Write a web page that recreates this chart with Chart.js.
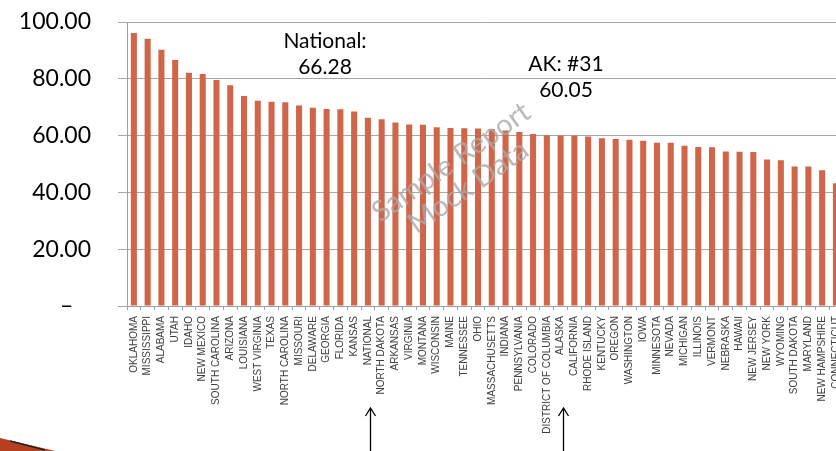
<!DOCTYPE html>
<html>
<head>
<meta charset="utf-8">
<script src="https://cdn.jsdelivr.net/npm/chart.js@4"></script>
<style>
  html, body { margin: 0; padding: 0; background: #fff; overflow: hidden; }
  #wrap { position: relative; width: 854px; height: 451px; }
</style>
</head>
<body>
<div id="wrap"><canvas id="stateChart" width="854" height="451"></canvas></div>
<script>
const states = [
  'OKLAHOMA', 'MISSISSIPPI', 'ALABAMA', 'UTAH', 'IDAHO', 'NEW MEXICO', 'SOUTH CAROLINA',
  'ARIZONA', 'LOUISIANA', 'WEST VIRGINIA', 'TEXAS', 'NORTH CAROLINA', 'MISSOURI',
  'DELAWARE', 'GEORGIA', 'FLORIDA', 'KANSAS', 'NATIONAL', 'NORTH DAKOTA', 'ARKANSAS',
  'VIRGINIA', 'MONTANA', 'WISCONSIN', 'MAINE', 'TENNESSEE', 'OHIO', 'MASSACHUSETTS',
  'INDIANA', 'PENNSYLVANIA', 'COLORADO', 'DISTRICT OF COLUMBIA', 'ALASKA', 'CALIFORNIA',
  'RHODE ISLAND', 'KENTUCKY', 'OREGON', 'WASHINGTON', 'IOWA', 'MINNESOTA', 'NEVADA',
  'MICHIGAN', 'ILLINOIS', 'VERMONT', 'NEBRASKA', 'HAWAII', 'NEW JERSEY', 'NEW YORK',
  'WYOMING', 'SOUTH DAKOTA', 'MARYLAND', 'NEW HAMPSHIRE', 'CONNECTICUT'
];

const scores = [
  96.1, 94.1, 90.2, 86.6, 82.1, 81.7, 79.6, 77.7, 73.9, 72.3, 71.9, 71.7, 70.6,
  69.8, 69.4, 69.3, 68.5, 66.28, 65.8, 64.6, 63.9, 63.8, 62.9, 62.7, 62.6, 62.5, 62.3,
  61.8, 61.3, 60.6, 60.1, 60.05, 60.0, 59.7, 59.1, 58.8, 58.5, 58.2, 57.5, 57.5,
  56.4, 56.0, 55.9, 54.4, 54.3, 54.2, 51.6, 51.3, 49.1, 49.1, 47.8, 43.2
];

const yTicks = [0, 20, 40, 60, 80, 100];

const callouts = [
  { lines: ['National:', '66.28'], x: 325, y: 41 },
  { lines: ['AK: #31', '60.05'], x: 566, y: 64 }
];
const arrowAt = ['NATIONAL', 'ALASKA'];

// extra drawing: callout text, watermark, arrows, slide corner
const extras = {
  id: 'extras',
  afterDraw(chart) {
    const ctx = chart.ctx;
    const x = chart.scales.x;
    ctx.save();

    ctx.fillStyle = '#000';
    ctx.font = '21px Lato, "Open Sans", sans-serif';
    ctx.textAlign = 'center';
    ctx.textBaseline = 'middle';
    callouts.forEach(c => {
      c.lines.forEach((t, i) => ctx.fillText(t, c.x, c.y + i * 26));
    });

    // watermark
    ctx.save();
    ctx.translate(458, 172);
    ctx.rotate(-35 * Math.PI / 180);
    ctx.fillStyle = 'rgba(170,170,170,0.8)';
    ctx.font = '29px Lato, "Open Sans", sans-serif';
    ctx.fillText('Sample Report', 0, -12);
    ctx.fillText('Mock Data', 0, 18);
    ctx.restore();

    // arrows pointing up at the labels
    ctx.strokeStyle = '#000';
    ctx.lineWidth = 1.3;
    arrowAt.forEach(name => {
      const px = Math.round(x.getPixelForValue(states.indexOf(name))) + 2.5;
      ctx.beginPath();
      ctx.moveTo(px, 451);
      ctx.lineTo(px, 408);
      ctx.moveTo(px - 5, 416);
      ctx.lineTo(px, 408);
      ctx.lineTo(px + 5, 416);
      ctx.stroke();
    });

    // slide corner decoration
    ctx.fillStyle = '#b5401f';
    ctx.beginPath();
    ctx.moveTo(0, 438);
    ctx.lineTo(55, 451);
    ctx.lineTo(0, 451);
    ctx.closePath();
    ctx.fill();
    ctx.strokeStyle = '#222';
    ctx.lineWidth = 1.5;
    ctx.beginPath();
    ctx.moveTo(10, 441);
    ctx.lineTo(45, 450);
    ctx.stroke();
    ctx.restore();
  }
};

new Chart(document.getElementById('stateChart'), {
  type: 'bar',
  data: {
    labels: states,
    datasets: [{
      data: scores,
      backgroundColor: '#d0654a',
      borderWidth: 0,
      barPercentage: 0.44,
      categoryPercentage: 1
    }]
  },
  options: {
    responsive: false,
    animation: false,
    layout: { padding: { top: 0, right: 8, left: 0, bottom: 0 } },
    plugins: { legend: { display: false }, tooltip: { enabled: false } },
    scales: {
      x: {
        offset: true,
        grid: { display: true, drawOnChartArea: false, offset: true, color: '#a0a0a0', tickLength: 4 },
        border: { color: '#a0a0a0' },
        ticks: {
          autoSkip: false,
          maxRotation: 90,
          minRotation: 90,
          padding: 6,
          color: '#404040',
          font: { family: '"Liberation Sans Narrow", "Liberation Sans", Arial, sans-serif', size: 10 }
        },
        afterFit(scale) { scale.height = 145; }
      },
      y: {
        min: 0,
        max: 100,
        afterBuildTicks(scale) { scale.ticks = yTicks.map(v => ({ value: v })); },
        grid: { color: '#a6a6a6', tickLength: 9 },
        border: { color: '#a0a0a0' },
        ticks: {
          padding: 27,
          color: '#000',
          font: { family: 'Lato, "Open Sans", sans-serif', size: 23 },
          callback: v => v === 0 ? '–   ' : v.toFixed(2)
        },
        afterFit(scale) {
          scale.width = 127;
          scale.paddingTop = 22;
          scale.paddingBottom = 0;
        }
      }
    }
  },
  plugins: [extras]
});
</script>
</body>
</html>
